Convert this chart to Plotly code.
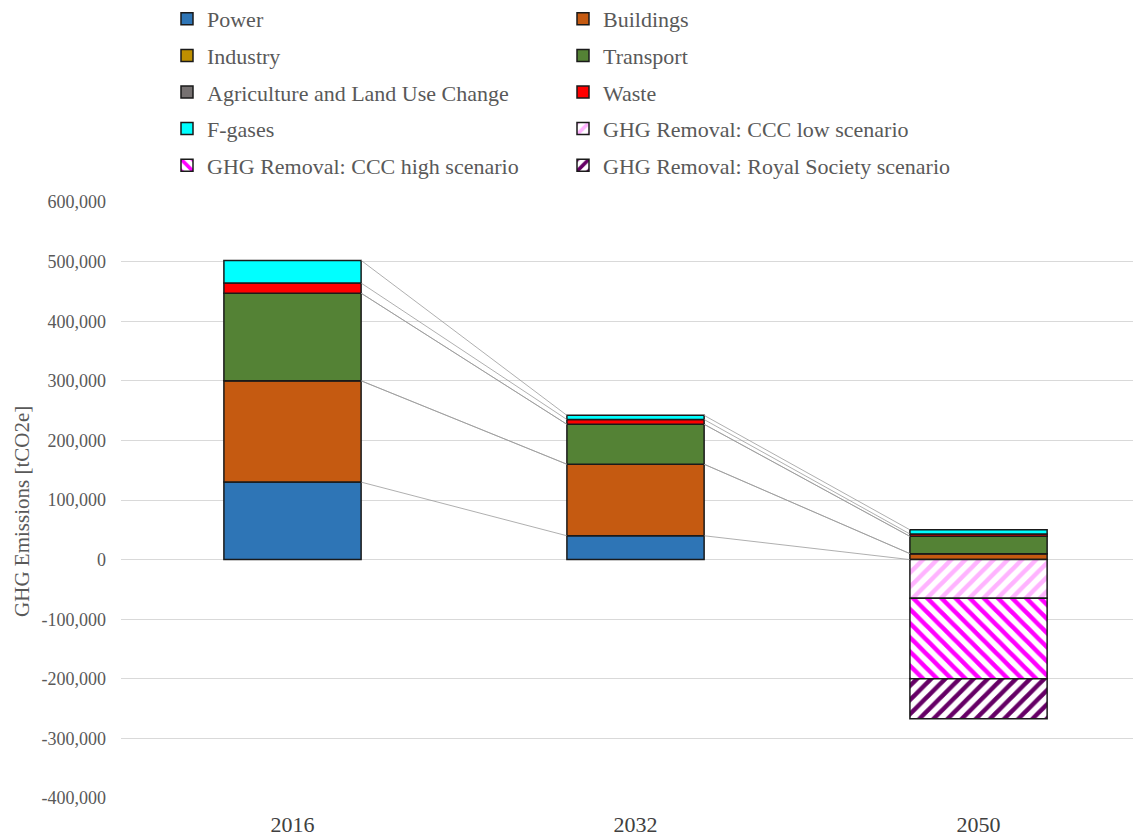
import numpy as np
import plotly.graph_objects as go

years = ["2016", "2032", "2050"]
power = [130000, 40000, 0]
buildings = [170000, 120000, 10000]
industry = [0, 0, 0]
transport = [147000, 67000, 29000]
agriculture = [0, 0, 0]
waste = [17000, 8000, 4000]
fgases = [38000, 7000, 7000]
ccc_low = [None, None, -65000]
ccc_high = [None, None, -135000]
royal_society = [None, None, -67000]

y_ticks = [-400000, -300000, -200000, -100000, 0, 100000, 200000,
           300000, 400000, 500000, 600000]
y_tick_labels = ["-400,000", "-300,000", "-200,000", "-100,000", "0",
                 "100,000", "200,000", "300,000", "400,000", "500,000",
                 "600,000"]

pos_names = ["Power", "Buildings", "Industry", "Transport",
             "Agriculture and Land Use Change", "Waste", "F-gases"]
pos_vals = [power, buildings, industry, transport, agriculture, waste, fgases]
pos_colors = ["#2E75B6", "#C55A11", "#BF9000", "#548235", "#767171", "#FF0000", "#00FFFF"]

neg_names = ["GHG Removal: CCC low scenario", "GHG Removal: CCC high scenario",
             "GHG Removal: Royal Society scenario"]
neg_vals = [ccc_low, ccc_high, royal_society]
neg_colors = ["#FFB3FF", "#FF00FF", "#660066"]
neg_shapes = ["/", "\\", "/"]

col1 = {"Power", "Industry", "Agriculture and Land Use Change", "F-gases",
        "GHG Removal: CCC high scenario"}

xpos = np.arange(len(years))
bw = 0.4
fig = go.Figure()

font_fam = "Liberation Serif"
grey = "#595959"

# connector (series) lines between cumulative tops
cum = np.cumsum(np.array(pos_vals, dtype=float), axis=0)
for k in range(cum.shape[0]):
    for i in range(len(years) - 1):
        fig.add_trace(go.Scatter(
            x=[xpos[i] + bw / 2, xpos[i + 1] - bw / 2],
            y=[cum[k, i], cum[k, i + 1]],
            mode="lines", line=dict(color="#9A9A9A", width=0.8),
            showlegend=False, hoverinfo="skip"))

for name, vals, col in zip(pos_names, pos_vals, pos_colors):
    fig.add_trace(go.Bar(
        x=xpos, y=vals, name=name, width=bw,
        marker=dict(color=col, line=dict(color="#1A1A1A", width=1.5)),
        legend="legend" if name in col1 else "legend2",
        legendgroup=name))

for name, vals, col, shp in zip(neg_names, neg_vals, neg_colors, neg_shapes):
    fig.add_trace(go.Bar(
        x=xpos, y=vals, name=name, width=bw,
        marker=dict(color="white", line=dict(color="#1A1A1A", width=1.5),
                    pattern=dict(shape=shp, fgcolor=col, bgcolor="white",
                                 fgopacity=1, size=10, solidity=0.45,
                                 fillmode="replace")),
        legend="legend" if name in col1 else "legend2",
        legendgroup=name))

leg_common = dict(
    font=dict(family=font_fam, size=22, color=grey),
    bgcolor="rgba(0,0,0,0)", orientation="v",
    xref="container", yref="paper", yanchor="top", xanchor="left",
    tracegroupgap=5, traceorder="grouped", itemclick=False)

fig.add_annotation(
    text="GHG Emissions [tCO2e]", textangle=-90, showarrow=False,
    xref="paper", yref="paper", x=-(113 - 14) / 1028, y=0.48,
    xanchor="center", yanchor="middle",
    font=dict(family=font_fam, size=21, color=grey))

legend_top = 1 + (202 - (-2)) / 596

fig.update_layout(
    width=1141, height=838,
    barmode="relative",
    paper_bgcolor="white", plot_bgcolor="white",
    margin=dict(l=113, r=0, t=194, b=48, autoexpand=False),
    font=dict(family=font_fam, color=grey),
    legend=dict(x=159 / 1141, y=legend_top, **leg_common),
    legend2=dict(x=555 / 1141, y=legend_top, **leg_common),
    xaxis=dict(range=[-0.5, 2.497], tickvals=list(xpos), ticktext=years,
               showgrid=False, zeroline=False, showline=False,
               tickfont=dict(family=font_fam, size=22, color="#404040"),
               ticks="", ticklabelstandoff=11),
    yaxis=dict(range=[-400000, 600000], tickvals=y_ticks, ticktext=y_tick_labels,
               gridcolor="#D9D9D9", gridwidth=1, zeroline=True,
               zerolinecolor="#D9D9D9", zerolinewidth=1, showline=False,
               tickfont=dict(family=font_fam, size=18, color=grey),
               ticklabelstandoff=14),
)

fig.write_html("out.html")
